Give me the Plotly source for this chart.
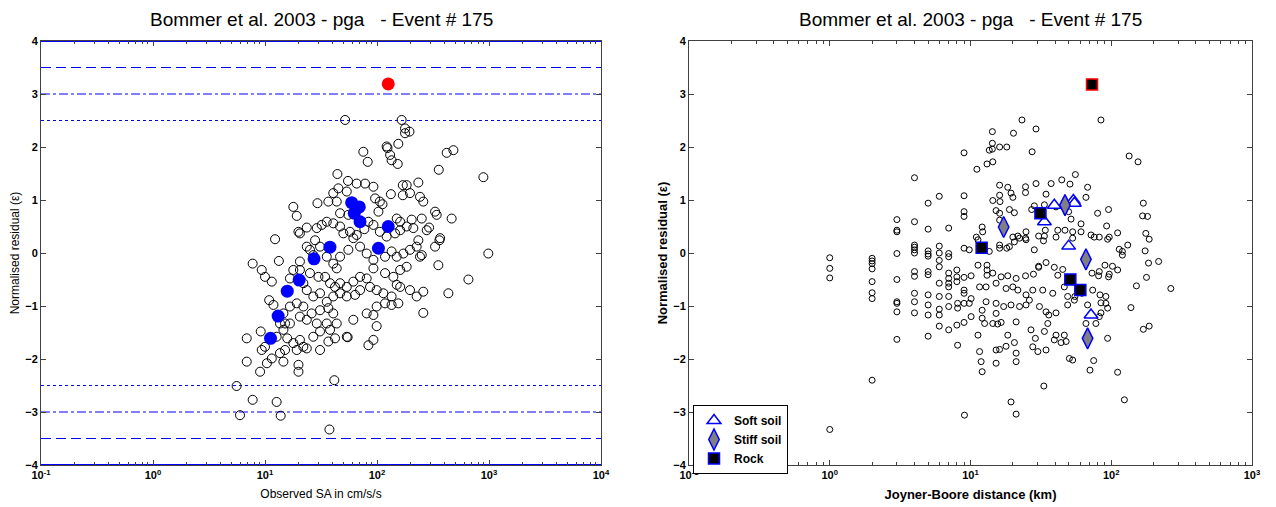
import plotly.graph_objects as go

# ---------------- Left panel data ----------------
sa_obs = [75.5, 82.6, 131, 135, 153, 419, 481, 356, 891, 234, 44.3, 55.1, 65.9, 78.2, 92.9, 170, 184, 133, 170, 197,
          242, 259, 53.7, 45.2, 40.7, 36.8, 29.4, 17.9, 19.2, 43.7, 46.8, 55.5, 96.2, 106, 112, 103, 150, 161, 204, 251,
          330, 341, 464, 292, 278, 366, 361, 330, 234, 211, 184, 161, 145, 122, 106, 92.9, 83.8, 77.1, 65.9, 61.5,
          57.4, 50.1, 46.8, 40.7, 35.6, 32.1, 29.0, 23.6, 20.5, 19.9, 12.3, 13.3, 7.76, 9.35, 10.0, 11.5, 20.5, 23.6,
          28.0, 31.0, 25.2, 27.0, 35.6, 40.7, 43.7, 46.8, 55.5, 70.6, 80.9, 92.9, 118, 135, 150, 172, 197, 226, 242,
          251, 184, 161, 140, 118, 92.9, 80.9, 70.6, 61.5, 53.7, 46.8, 42.2, 38.1, 34.4, 30.0, 25.2, 20.5, 17.9, 16.7,
          22.0, 23.6, 27.0, 31.0, 35.6, 40.7, 46.8, 53.7, 63.7, 70.6, 86.7, 99.3, 114, 135, 150, 161, 197, 226, 259,
          353, 434, 655, 986, 259, 155, 135, 118, 99.3, 80.9, 92.9, 99.3, 83.8, 92.9, 61.5, 54.7, 43.7, 40.7, 36.8,
          31.0, 26.1, 22.0, 19.2, 16.7, 14.6, 15.1, 16.7, 13.6, 11.9, 10.9, 20.5, 23.6, 29.0, 35.6, 38.1, 31.0, 27.0,
          22.0, 20.5, 19.2, 17.9, 15.8, 14.6, 12.7, 10.0, 9.35, 9.16, 6.87, 6.87, 9.04, 10.4, 11.5, 13.6, 14.6, 15.1,
          19.9, 19.9, 23.6, 31.0, 36.8, 42.2, 53.7, 5.58, 7.76, 12.7, 5.98, 13.8, 37.6, 41.6,
          51.9, 166, 178, 195, 178, 122, 124, 155]
res_obs = [1.91, 1.72, 1.85, 1.75, 1.68, 1.89, 1.94, 1.57, 1.43, 1.33, 1.49, 1.36, 1.31, 1.31, 1.25, 1.28, 1.28, 1.11, 1.09, 1.13,
           1.06, 0.97, 1.16, 1.22, 1.13, 0.97, 0.94, 0.87, 0.70, 0.97, 0.75, 0.72, 1.03, 0.97, 0.92, 0.78, 0.65, 0.59, 0.63, 0.65,
           0.78, 0.72, 0.65, 0.48, 0.43, 0.28, 0.24, 0.12, 0.24, 0.47, 0.50, 0.43, 0.37, 0.31, 0.40, 0.53, 0.59, 0.45, 0.34, 0.28,
           0.40, 0.37, 0.50, 0.56, 0.59, 0.53, 0.47, 0.48, 0.37, 0.40, 0.26, -0.15, -0.20, -0.32, -0.45, -0.54, -0.16, 0.12,
           0.24, 0.12, 0.06, -0.04, -0.07, -0.20, -0.29, -0.07, 0.06, 0.12, -0.01, -0.13, -0.07, 0.03, -0.07, -0.01, 0.06, 0.12, -0.07,
           -0.04, -0.26, -0.32, -0.45, -0.38, -0.29, -0.48, -0.45, -0.54, -0.64, -0.57, -0.64, -0.57, -0.45, -0.45, -0.38, -0.32, -0.32, -0.48,
           -0.57, -0.70, -0.82, -0.76, -0.92, -0.82, -0.76, -0.82, -0.79, -0.70, -0.64, -0.70, -0.76, -0.82, -0.60, -0.64, -0.70, -0.82, -0.73,
           -0.23, -0.76, -0.50, -0.01, -1.13, -0.95, -0.98, -0.95, -1.01, -1.14, -1.17, -1.38, -1.74, -1.64, -1.26, -1.59, -1.33, -1.14, -1.04,
           -1.08, -1.14, -1.01, -0.95, -1.01, -1.14, -1.33, -1.33, -1.33, -0.98, -0.89, -1.20, -1.26, -1.33, -1.33, -1.45, -1.48, -1.58,
           -1.77, -1.64, -1.83, -1.70, -1.61, -1.45, -1.58, -1.77, -1.83, -1.48, -1.61, -2.05, -2.24, -2.08, -1.99, -1.89, -2.05, -1.83,
           -2.11, -2.24, -1.80, -1.83, -1.67, -1.61, -1.58, -2.51, -2.77, -2.81, -3.06, -3.07, -3.33, -2.40,
           2.51, 2.51, 2.35, 2.29, 2.26, 2.01, 1.98, 2.06]

sa_event = [11.2, 13.1, 15.8, 20.2, 27.4, 38.0, 59.4, 69.5, 62.7, 70.5, 103, 126]
res_event = [-1.61, -1.19, -0.72, -0.51, -0.11, 0.11, 0.95, 0.87, 0.75, 0.59, 0.09, 0.50]
sa_outlier = [126]
res_outlier = [3.19]

# ---------------- Right panel data ----------------
rjb_all = [1, 1, 1, 1,
           2, 2, 2, 2, 2, 2, 2, 2,
           3, 3, 3, 3, 3, 3, 3, 3, 3,
           4, 4, 4, 4, 4, 4, 4, 4, 4, 4, 4,
           5, 5, 5, 5, 5, 5, 5, 5, 5, 5, 5,
           6, 6, 6, 6, 6, 6, 6, 6, 6, 6,
           7, 7, 7, 7, 7, 7, 7, 7, 7, 7,
           8, 8, 8, 8, 8.1, 8.1, 8.1,
           9, 9, 9, 9, 9, 9, 9, 9, 9, 9,
           9.8, 9.8, 10.1, 10.1, 10.1,
           11, 11.1, 11.3, 11.3, 11.3, 11.6, 11.6,
           11.9, 12.1, 12.2, 12.1, 12.1, 12.1, 12.6, 12.9, 12.9,
           13.1, 13.1, 13.1, 13.1, 13.6, 13.6,
           14.4, 14.4, 14.4, 14.4,
           15.2, 15.2, 15.2, 15.2, 15.2, 15.2, 15.6,
           16.1, 16.1, 16.2, 16.1, 16.1, 16.1, 16.1, 16.1, 16.5, 16.5,
           17.2, 17.9, 17.9, 18.1, 18.4, 18.4, 18.4,
           18.9, 18.9, 19.4, 19.4, 20.0, 20.0, 20.0, 20.5, 20.5, 20.5,
           21.1, 21.1, 21.1, 21.1, 21.7, 21.7, 22.3, 22.3,
           24.6, 24.6, 24.6, 24.6, 24.8, 24.8, 24.8, 24.8,
           26.2, 26.9, 27.4, 27.2, 27.7, 27.7, 28.0, 28.4, 28.4, 28.9,
           29.2, 30.1, 30.5, 30.5, 30.5, 30.9,
           32.6, 33.0, 33.2, 33.5, 33.5, 33.5, 34.0, 34.4, 34.4, 34.4, 34.4, 35.4, 36.0,
           37.4, 38.4, 39.4, 39.4, 40.5, 40.5, 40.5, 40.5, 41.7, 41.7,
           44.0, 44.5, 45.2, 46.4, 46.4, 46.9, 47.8, 49.0, 49.0, 49.8, 50.4,
           50.9, 51.8, 53.2, 53.2, 53.2, 54.7, 55.2, 55.6,
           61.0, 61.0, 62.0, 66.1, 66.1, 67.9, 67.9,
           70.6, 71.8, 73.0, 73.8, 75.0, 75.7,
           77.8, 80.0, 81.3, 82.2, 82.2, 82.2, 83.2, 84.5, 84.5, 84.5,
           90.2, 91.6, 91.6, 92.7, 94.2, 94.2, 94.2, 95.7, 95.7, 96.8, 96.8,
           102, 111, 111, 111, 114, 120, 120,
           124, 131, 134, 138, 151, 155,
           169, 167, 181, 176, 186, 174, 184, 178, 169, 186, 217, 265,
           23.2, 29.2, 14.3, 20.2, 14.3, 14.3, 16.1, 18.1,
           9.06, 19.4, 21.1]
res_all = [-0.09, -0.29, -0.47, -3.33,
           -0.10, -0.15, -0.20, -0.30, -0.54, -0.75, -0.86, -2.40,
           0.63, 0.43, 0.40, -0.01, -0.50, -0.92, -0.95, -1.11, -1.63,
           1.42, 0.59, 0.15, 0.11, 0.06, 0.00, -0.35, -0.44, -0.76, -0.92, -1.13,
           0.94, 0.45, 0.04, -0.02, -0.06, -0.35, -0.41, -0.79, -0.98, -1.17, -1.57,
           1.07, 0.13, 0.00, -0.14, -0.26, -0.57, -0.82, -1.06, -1.17, -1.38,
           0.47, -0.01, -0.07, -0.38, -0.48, -0.57, -0.64, -0.82, -1.01, -1.45,
           -0.32, -0.45, -0.54, -1.36, -0.95, -1.04, -1.74,
           1.89, 1.08, 0.78, 0.69, 0.09, -0.46, -0.70, -0.76, -0.95, -1.31,
           0.06, -0.95, -0.43, -0.86, -1.20,
           0.30, 1.58, 0.25, -0.23, -1.55, -0.64, -1.86,
           -2.05, 0.49, 0.40, -1.08, -1.23, -2.24, -1.33, -0.64, -0.92,
           -0.23, -0.32, -0.42, 1.68, 1.94, 0.03,
           1.72, 0.99, -0.38, -1.33,
           0.80, -0.57, -0.95, -1.14, -1.83, -2.08, -1.34,
           1.28, 1.09, 0.97, 0.75, 0.62, 0.15, 0.09, -1.82, -0.45, -1.31,
           -1.01, -0.67, -1.76, 0.09, 1.24, -0.43, -1.55,
           0.82, 0.12, 1.13, -0.98, 1.05, 0.30, -0.64, 0.76, 0.21, -1.69,
           -0.48, -1.30, -1.89, -2.05, 0.32, -0.70, 0.28, -1.01,
           1.25, 1.14, 0.28, -0.43, 0.40, 0.25, -0.79, -0.98,
           -0.89, -1.45, 1.91, 0.82, -0.70, -1.77, -0.40, 0.89, 0.06, -1.61,
           1.31, -1.86, 0.32, -0.25, -0.27, -1.01,
           -0.70, 0.23, -2.51, 0.91, 0.32, -1.48, 0.43, 1.11, -0.18, -1.11, -1.83, -1.33, -1.17,
           1.31, -0.76, -0.27, -1.64, 0.87, 0.30, -1.13, -1.55, 0.43, -0.42,
           -1.69, 1.38, -0.31, -0.64, -1.55, 0.43, -1.67, -0.82, -0.98, 0.78, -1.99,
           1.30, 0.64, 0.40, 0.28, -2.02, -0.89, -0.82, 1.48,
           0.55, 0.40, -0.76, 1.05, -1.33, 1.24, -0.98,
           -2.21, 0.34, -0.38, -0.70, -2.03, 0.30,
           -1.33, 0.75, -0.43, 0.30, -0.35, -1.20, -0.79, -0.94, -1.13, 2.51,
           -0.23, -0.82, -0.95, 0.51, 0.26, -1.61, -1.04, 0.82, -0.45, 0.30, -0.40,
           -0.25, 0.38, -0.32, -2.25, 0.07, 0.03, -0.04,
           -2.77, 0.15, 1.83, -1.03, -0.62, 1.72,
           0.94, 0.70, 0.69, 0.37, 0.26, 0.04, -0.19, -0.46, -1.44, -1.38, -0.16, -0.67,
           2.51, 2.34, 2.29, 2.26, 2.07, 1.96, 2.00, 2.00,
           -3.06, -2.81, -3.04]

rjb_soft = [39.4, 53.8, 54.7, 33.5, 49.8, 71.8]
res_soft = [0.90, 0.99, 0.94, 0.59, 0.13, -1.17]
rjb_stiff = [17.2, 46.9, 66.1, 67.9]
res_stiff = [0.49, 0.905, -0.12, -1.61]
rjb_rock = [12.0, 31.4, 51.2, 60.3]
res_rock = [0.10, 0.75, -0.50, -0.70]
rjb_outlier = [73]
res_outlier_r = [3.18]

# reference lines (normalised residual levels)
levels_up = [2.5, 3.0, 3.5]
levels_dn = [-2.5, -3.0, -3.5]
bounds = [4, -4]
x_left_span = [0.1, 10000]

title_text = "Bommer et al. 2003 - pga   - Event # 175"
FONT = "Liberation Sans, Arial, sans-serif"
LINE_BLUE = "#0000ff"

# page has an 8px body margin: the figure is drawn 8px in from the window corner
OFF = 8
W, H = 1276 - OFF, 507 - OFF
L1, R1 = 41 - OFF, 601 - OFF
L2, R2 = 689 - OFF, 1252 - OFF
TOP, BOT = 41 - OFF, 465 - OFF


def px_x(p):
    return p / W


def px_y(p):
    return 1 - p / H


fig = go.Figure()

dashes = ["dot", "dashdot", "10px,5px"]
for lv, ds in zip(levels_up, dashes):
    fig.add_trace(go.Scatter(x=x_left_span, y=[lv, lv], mode="lines", line=dict(color=LINE_BLUE, width=1, dash=ds),
                             xaxis="x", yaxis="y", showlegend=False, hoverinfo="skip"))
for lv, ds in zip(levels_dn, dashes):
    fig.add_trace(go.Scatter(x=x_left_span, y=[lv, lv], mode="lines", line=dict(color=LINE_BLUE, width=1, dash=ds),
                             xaxis="x", yaxis="y", showlegend=False, hoverinfo="skip"))
for b in bounds:
    fig.add_trace(go.Scatter(x=x_left_span, y=[b, b], mode="lines", line=dict(color=LINE_BLUE, width=2),
                             xaxis="x", yaxis="y", showlegend=False, hoverinfo="skip"))

fig.add_trace(go.Scatter(x=sa_obs, y=res_obs, mode="markers", xaxis="x", yaxis="y", showlegend=False,
                         marker=dict(symbol="circle-open", size=9, color="black", line=dict(width=1, color="black"))))
fig.add_trace(go.Scatter(x=sa_event, y=res_event, mode="markers", xaxis="x", yaxis="y", showlegend=False,
                         marker=dict(symbol="circle", size=13, color="#0000ff", line=dict(width=0))))
fig.add_trace(go.Scatter(x=sa_outlier, y=res_outlier, mode="markers", xaxis="x", yaxis="y", showlegend=False,
                         marker=dict(symbol="circle", size=13, color="#ff0000", line=dict(width=0))))

fig.add_trace(go.Scatter(x=rjb_all, y=res_all, mode="markers", xaxis="x2", yaxis="y2", showlegend=False,
                         marker=dict(symbol="circle-open", size=6, color="black", line=dict(width=1, color="black"))))
fig.add_trace(go.Scatter(x=rjb_soft, y=res_soft, mode="markers", xaxis="x2", yaxis="y2", name="Soft soil",
                         marker=dict(symbol="triangle-up", size=12, color="white", line=dict(width=1.5, color="#0000ff"))))
fig.add_trace(go.Scatter(x=rjb_stiff, y=res_stiff, mode="markers", xaxis="x2", yaxis="y2", name="Stiff soil",
                         marker=dict(symbol="diamond-tall", size=15, color="#808080", line=dict(width=1.5, color="#0000ff"))))
fig.add_trace(go.Scatter(x=rjb_rock, y=res_rock, mode="markers", xaxis="x2", yaxis="y2", name="Rock",
                         marker=dict(symbol="square", size=11, color="black", line=dict(width=1.5, color="#0000ff"))))
fig.add_trace(go.Scatter(x=rjb_outlier, y=res_outlier_r, mode="markers", xaxis="x2", yaxis="y2", showlegend=False,
                         marker=dict(symbol="square", size=11, color="black", line=dict(width=1.5, color="#ff0000"))))


def minor_vals(lo, hi):
    vals = []
    for e in range(lo, hi):
        for m in range(2, 10):
            vals.append(m * 10 ** e)
    return vals


def sup(e):
    return "10<sup>%d</sup>" % e


tick_font = dict(family=FONT, size=11, color="black", weight="bold")
common_x = dict(type="log", showgrid=False, zeroline=False, showline=True, linecolor="#404040", linewidth=1,
                mirror="allticks", ticks="inside", ticklen=5, tickcolor="#404040", tickfont=tick_font,
                automargin=False)
common_y = dict(range=[-4, 4], dtick=1, tick0=0, showgrid=False, zeroline=False, showline=True, linecolor="#404040",
                linewidth=1, mirror="allticks", ticks="inside", ticklen=5, tickcolor="#404040", tickfont=tick_font,
                automargin=False, domain=[px_y(BOT), px_y(TOP)])

fig.update_layout(
    width=W, height=H, paper_bgcolor="white", plot_bgcolor="white",
    margin=dict(l=0, r=0, t=0, b=0, autoexpand=False),
    font=dict(family=FONT, color="black"),
    xaxis=dict(**common_x, domain=[px_x(L1), px_x(R1)], range=[-1, 4],
               tickvals=[0.1, 1, 10, 100, 1000, 10000], ticktext=[sup(e) for e in range(-1, 5)],
               minor=dict(tickvals=minor_vals(-1, 4), ticks="inside", ticklen=3, tickcolor="#404040"),
               title=dict(text="Observed SA in cm/s/s", font=dict(size=12, family=FONT), standoff=9), anchor="y"),
    yaxis=dict(**common_y, anchor="x",
               title=dict(text="Normalised residual (ε)", font=dict(size=12, family=FONT), standoff=3)),
    xaxis2=dict(**common_x, domain=[px_x(L2), px_x(R2)], range=[-1, 3],
                tickvals=[0.1, 1, 10, 100, 1000], ticktext=[sup(e) for e in range(-1, 4)],
                minor=dict(tickvals=minor_vals(-1, 3), ticks="inside", ticklen=3, tickcolor="#404040"),
                title=dict(text="Joyner-Boore distance (km)", font=dict(size=13, family=FONT, weight="bold"), standoff=9),
                anchor="y2"),
    yaxis2=dict(**common_y, anchor="x2",
                title=dict(text="Normalised residual (ε)", font=dict(size=13, family=FONT, weight="bold"), standoff=2)),
    legend=dict(x=px_x(693 - OFF), y=px_y(405 - OFF), xanchor="left", yanchor="top", bgcolor="white",
                bordercolor="black", borderwidth=1, font=dict(size=12, family=FONT, weight="bold"),
                tracegroupgap=0, itemwidth=30),
    annotations=[
        dict(text=title_text, x=px_x((L1 + R1) / 2), y=px_y(19 - OFF), xref="paper", yref="paper", showarrow=False,
             xanchor="center", yanchor="middle", font=dict(size=19, family=FONT)),
        dict(text=title_text, x=px_x((L2 + R2) / 2), y=px_y(19 - OFF), xref="paper", yref="paper", showarrow=False,
             xanchor="center", yanchor="middle", font=dict(size=19, family=FONT)),
    ],
)

fig.write_html("out.html")
